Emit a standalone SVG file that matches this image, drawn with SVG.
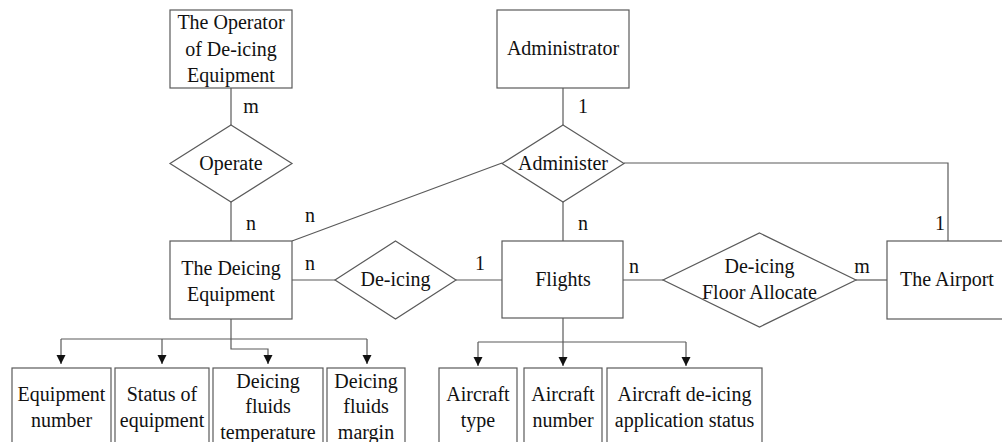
<svg xmlns="http://www.w3.org/2000/svg" width="1002" height="442" viewBox="0 0 1002 442">
<style>
.b{fill:#fff;stroke:#5a5a5a;stroke-width:1.2}
.l{fill:none;stroke:#5a5a5a;stroke-width:1.2}
.t{font-family:Liberation Serif,Tinos,Times New Roman,serif;font-size:20px;fill:#111;text-anchor:middle}
</style>
<defs>
<marker id="ah" markerWidth="10" markerHeight="10" refX="9" refY="5" orient="auto" markerUnits="userSpaceOnUse">
<path d="M0,0.5 L9,5 L0,9.5 Z" fill="#111"/>
</marker>
</defs>
<rect width="1002" height="442" fill="#fff"/>
<g id="connectors">
<line class="l" x1="231" y1="88" x2="231" y2="125"/>
<line class="l" x1="231" y1="202" x2="231" y2="241"/>
<line class="l" x1="563" y1="88" x2="563" y2="125"/>
<line class="l" x1="563" y1="202" x2="563" y2="241"/>
<line class="l" x1="502" y1="163" x2="292" y2="241"/>
<polyline class="l" points="624,163 948,163 948,241"/>
<line class="l" x1="292" y1="280" x2="335" y2="280"/>
<line class="l" x1="456" y1="280" x2="502" y2="280"/>
<line class="l" x1="623" y1="280" x2="663" y2="280"/>
<line class="l" x1="856" y1="280" x2="887" y2="280"/>
<line class="l" x1="231" y1="319" x2="231" y2="339"/>
<line class="l" x1="61" y1="339" x2="367" y2="339"/>
<line class="l" x1="61" y1="339" x2="61" y2="364" marker-end="url(#ah)"/>
<line class="l" x1="162" y1="339" x2="162" y2="364" marker-end="url(#ah)"/>
<line class="l" x1="367" y1="339" x2="367" y2="364" marker-end="url(#ah)"/>
<polyline class="l" points="231,339 231,349 268,349 268,364" marker-end="url(#ah)"/>
<line class="l" x1="563" y1="318" x2="563" y2="342"/>
<line class="l" x1="478" y1="342" x2="686" y2="342"/>
<line class="l" x1="478" y1="342" x2="478" y2="366" marker-end="url(#ah)"/>
<line class="l" x1="563" y1="342" x2="563" y2="366" marker-end="url(#ah)"/>
<line class="l" x1="686" y1="342" x2="686" y2="366" marker-end="url(#ah)"/>
<text class="t" x="251" y="113">m</text>
<text class="t" x="251" y="230">n</text>
<text class="t" x="310" y="222">n</text>
<text class="t" x="583" y="113">1</text>
<text class="t" x="583" y="230">n</text>
<text class="t" x="940" y="230">1</text>
<text class="t" x="310" y="270">n</text>
<text class="t" x="480" y="270">1</text>
<text class="t" x="634" y="273">n</text>
<text class="t" x="862" y="273">m</text>
</g>
<g id="operator">
<rect class="b" x="170" y="10" width="122" height="78"/>
<text class="t" x="231" y="29">The Operator</text>
<text class="t" x="231" y="56">of De-icing</text>
<text class="t" x="231" y="82">Equipment</text>
</g>
<g id="operate">
<polygon class="b" points="231,125 292,163.5 231,202 170,163.5"/>
<text class="t" x="231" y="170">Operate</text>
</g>
<g id="administrator">
<rect class="b" x="497" y="10" width="132" height="78"/>
<text class="t" x="563" y="55">Administrator</text>
</g>
<g id="administer">
<polygon class="b" points="563,125 624,163.5 563,202 502,163.5"/>
<text class="t" x="563" y="170">Administer</text>
</g>
<g id="deicing-equipment">
<rect class="b" x="170" y="241" width="122" height="78"/>
<text class="t" x="231" y="275">The Deicing</text>
<text class="t" x="231" y="301">Equipment</text>
</g>
<g id="deicing">
<polygon class="b" points="395.5,241 456,280 395.5,319 335,280"/>
<text class="t" x="395.5" y="286">De-icing</text>
</g>
<g id="flights">
<rect class="b" x="502" y="241" width="121" height="77"/>
<text class="t" x="563" y="286">Flights</text>
</g>
<g id="floor-allocate">
<polygon class="b" points="759.5,233 856,280 759.5,327 663,280"/>
<text class="t" x="759.5" y="273">De-icing</text>
<text class="t" x="759.5" y="299">Floor Allocate</text>
</g>
<g id="airport">
<rect class="b" x="887" y="241" width="122" height="78"/>
<text class="t" x="947" y="286">The Airport</text>
</g>
<g id="equipment-number">
<rect class="b" x="12" y="368" width="99" height="90"/>
<text class="t" x="61.5" y="401">Equipment</text>
<text class="t" x="61.5" y="427">number</text>
</g>
<g id="status-of-equipment">
<rect class="b" x="115" y="368" width="94" height="90"/>
<text class="t" x="162" y="401">Status of</text>
<text class="t" x="162" y="427">equipment</text>
</g>
<g id="fluids-temperature">
<rect class="b" x="213" y="368" width="110" height="90"/>
<text class="t" x="268" y="388">Deicing</text>
<text class="t" x="268" y="413">fluids</text>
<text class="t" x="268" y="439">temperature</text>
</g>
<g id="fluids-margin">
<rect class="b" x="327" y="368" width="78" height="90"/>
<text class="t" x="366" y="388">Deicing</text>
<text class="t" x="366" y="413">fluids</text>
<text class="t" x="366" y="439">margin</text>
</g>
<g id="aircraft-type">
<rect class="b" x="439" y="368" width="78" height="90"/>
<text class="t" x="478" y="401">Aircraft</text>
<text class="t" x="478" y="427">type</text>
</g>
<g id="aircraft-number">
<rect class="b" x="524" y="368" width="78" height="90"/>
<text class="t" x="563" y="401">Aircraft</text>
<text class="t" x="563" y="427">number</text>
</g>
<g id="application-status">
<rect class="b" x="607" y="368" width="155" height="90"/>
<text class="t" x="684.5" y="401">Aircraft de-icing</text>
<text class="t" x="684.5" y="427">application status</text>
</g>
</svg>
